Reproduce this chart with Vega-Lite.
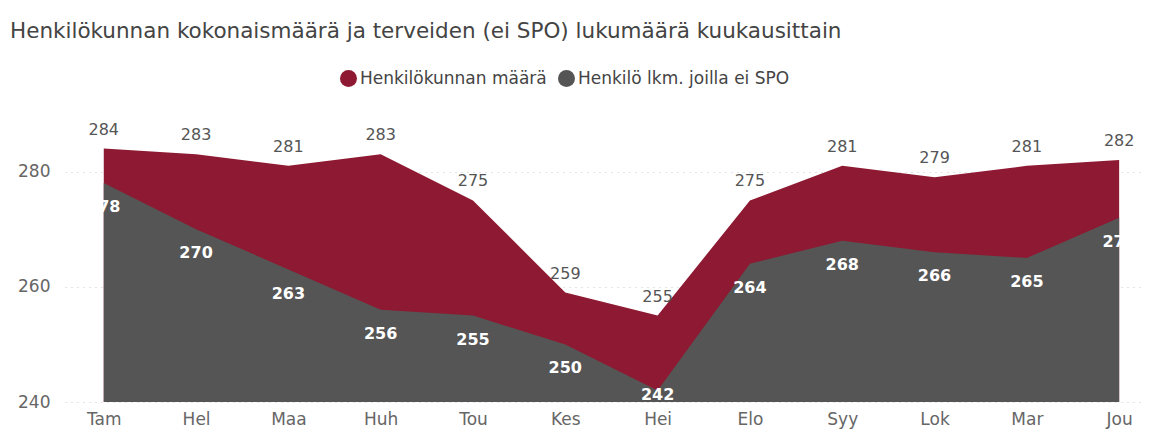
{
  "$schema": "https://vega.github.io/schema/vega-lite/v6.json",
  "width": 1080,
  "height": 288,
  "autosize": "none",
  "padding": {"left": 65, "top": 114, "right": 4, "bottom": 30},
  "background": "white",
  "title": {
    "text": "Henkilökunnan kokonaismäärä ja terveiden (ei SPO) lukumäärä kuukausittain",
    "anchor": "start",
    "frame": "group",
    "dx": -55,
    "offset": 27,
    "font": "DejaVu Sans",
    "fontSize": 21.5,
    "fontWeight": "normal",
    "color": "#444444"
  },
  "data": {
    "values": [
      {"i": 0, "kk": "Tam", "sarja": "Henkilökunnan määrä", "arvo": 284},
      {"i": 1, "kk": "Hel", "sarja": "Henkilökunnan määrä", "arvo": 283},
      {"i": 2, "kk": "Maa", "sarja": "Henkilökunnan määrä", "arvo": 281},
      {"i": 3, "kk": "Huh", "sarja": "Henkilökunnan määrä", "arvo": 283},
      {"i": 4, "kk": "Tou", "sarja": "Henkilökunnan määrä", "arvo": 275},
      {"i": 5, "kk": "Kes", "sarja": "Henkilökunnan määrä", "arvo": 259},
      {"i": 6, "kk": "Hei", "sarja": "Henkilökunnan määrä", "arvo": 255},
      {"i": 7, "kk": "Elo", "sarja": "Henkilökunnan määrä", "arvo": 275},
      {"i": 8, "kk": "Syy", "sarja": "Henkilökunnan määrä", "arvo": 281},
      {"i": 9, "kk": "Lok", "sarja": "Henkilökunnan määrä", "arvo": 279},
      {"i": 10, "kk": "Mar", "sarja": "Henkilökunnan määrä", "arvo": 281},
      {"i": 11, "kk": "Jou", "sarja": "Henkilökunnan määrä", "arvo": 282},
      {"i": 0, "kk": "Tam", "sarja": "Henkilö lkm. joilla ei SPO", "arvo": 278},
      {"i": 1, "kk": "Hel", "sarja": "Henkilö lkm. joilla ei SPO", "arvo": 270},
      {"i": 2, "kk": "Maa", "sarja": "Henkilö lkm. joilla ei SPO", "arvo": 263},
      {"i": 3, "kk": "Huh", "sarja": "Henkilö lkm. joilla ei SPO", "arvo": 256},
      {"i": 4, "kk": "Tou", "sarja": "Henkilö lkm. joilla ei SPO", "arvo": 255},
      {"i": 5, "kk": "Kes", "sarja": "Henkilö lkm. joilla ei SPO", "arvo": 250},
      {"i": 6, "kk": "Hei", "sarja": "Henkilö lkm. joilla ei SPO", "arvo": 242},
      {"i": 7, "kk": "Elo", "sarja": "Henkilö lkm. joilla ei SPO", "arvo": 264},
      {"i": 8, "kk": "Syy", "sarja": "Henkilö lkm. joilla ei SPO", "arvo": 268},
      {"i": 9, "kk": "Lok", "sarja": "Henkilö lkm. joilla ei SPO", "arvo": 266},
      {"i": 10, "kk": "Mar", "sarja": "Henkilö lkm. joilla ei SPO", "arvo": 265},
      {"i": 11, "kk": "Jou", "sarja": "Henkilö lkm. joilla ei SPO", "arvo": 272}
    ]
  },
  "encoding": {
    "x": {
      "field": "i",
      "type": "quantitative",
      "scale": {"domain": [-0.42, 11.28], "nice": false, "zero": false},
      "axis": {
        "title": null,
        "values": [0, 1, 2, 3, 4, 5, 6, 7, 8, 9, 10, 11],
        "labelExpr": "['Tam','Hel','Maa','Huh','Tou','Kes','Hei','Elo','Syy','Lok','Mar','Jou'][datum.value]",
        "grid": false,
        "domain": false,
        "ticks": false,
        "labelPadding": 9,
        "labelFont": "DejaVu Sans",
        "labelFontSize": 17,
        "labelColor": "#666666"
      }
    },
    "y": {
      "field": "arvo",
      "type": "quantitative",
      "scale": {"domain": [240, 290], "nice": false, "zero": false},
      "axis": {
        "title": null,
        "values": [240, 260, 280],
        "grid": true,
        "gridColor": "#c8c8c8",
        "gridDash": [1, 5],
        "gridWidth": 1,
        "domain": false,
        "ticks": false,
        "labelPadding": 15,
        "labelFont": "DejaVu Sans",
        "labelFontSize": 17,
        "labelColor": "#666666"
      }
    }
  },
  "layer": [
    {
      "transform": [{"filter": "datum.sarja === 'Henkilökunnan määrä'"}],
      "mark": {"type": "area", "opacity": 1},
      "encoding": {
        "y2": {"datum": 240},
        "color": {
          "field": "sarja",
          "type": "nominal",
          "scale": {
            "domain": ["Henkilökunnan määrä", "Henkilö lkm. joilla ei SPO"],
            "range": ["#8D1A32", "#555555"]
          },
          "legend": {
            "title": null,
            "orient": "none",
            "direction": "horizontal",
            "legendX": 274,
            "legendY": -45,
            "symbolType": "circle",
            "symbolSize": 289,
            "symbolOpacity": 1,
            "labelFont": "DejaVu Sans",
            "labelFontSize": 17,
            "labelColor": "#444444",
            "labelOffset": 2,
            "labelLimit": 400,
            "columnPadding": 10
          }
        }
      }
    },
    {
      "transform": [{"filter": "datum.sarja === 'Henkilö lkm. joilla ei SPO'"}],
      "mark": {"type": "area", "opacity": 1},
      "encoding": {
        "y2": {"datum": 240},
        "color": {"field": "sarja", "type": "nominal"}
      }
    },
    {
      "transform": [{"filter": "datum.sarja === 'Henkilökunnan määrä'"}],
      "mark": {"type": "text", "dy": -19, "font": "DejaVu Sans", "fontSize": 16, "color": "#555555"},
      "encoding": {"text": {"field": "arvo", "type": "quantitative"}}
    },
    {
      "transform": [{"filter": "datum.sarja === 'Henkilö lkm. joilla ei SPO' && datum.arvo >= 246"}],
      "mark": {"type": "text", "dy": 24, "font": "DejaVu Sans", "fontSize": 16, "fontWeight": "bold", "color": "#ffffff"},
      "encoding": {"text": {"field": "arvo", "type": "quantitative"}}
    },
    {
      "transform": [{"filter": "datum.sarja === 'Henkilö lkm. joilla ei SPO' && datum.arvo < 246"}],
      "mark": {"type": "text", "dy": 5, "font": "DejaVu Sans", "fontSize": 16, "fontWeight": "bold", "color": "#ffffff"},
      "encoding": {"text": {"field": "arvo", "type": "quantitative"}}
    }
  ],
  "config": {
    "view": {"stroke": null}
  }
}
